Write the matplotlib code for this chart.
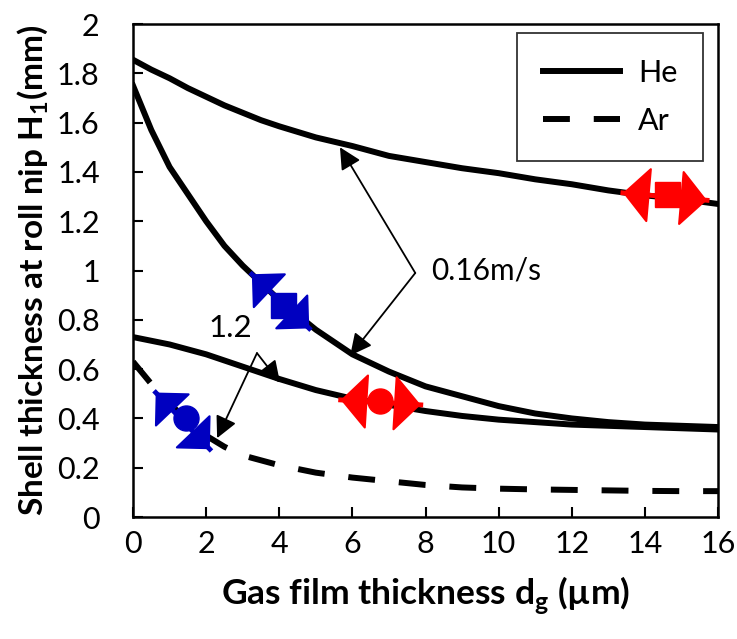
import matplotlib
matplotlib.use("Agg")
import matplotlib.pyplot as plt
from matplotlib.patches import FancyArrowPatch

plt.rcParams['font.family'] = ['Lato', 'DejaVu Sans']
plt.rcParams['mathtext.fontset'] = 'custom'
plt.rcParams['mathtext.rm'] = 'Lato'
plt.rcParams['mathtext.bf'] = 'Lato:bold'

# gas film thickness (um)
dg = [0, 0.5, 1, 1.5, 2, 2.5, 3, 3.5, 4, 5, 6, 7, 8, 9, 10, 11, 12, 13, 14, 15, 16]

# He curves
he_a = [1.855, 1.815, 1.78, 1.74, 1.705, 1.67, 1.64, 1.61, 1.585, 1.54, 1.505,
        1.465, 1.44, 1.415, 1.395, 1.37, 1.35, 1.325, 1.305, 1.29, 1.27]
he_b = [1.75, 1.57, 1.42, 1.31, 1.20, 1.10, 1.02, 0.95, 0.88, 0.76, 0.66,
        0.59, 0.53, 0.49, 0.45, 0.42, 0.40, 0.385, 0.375, 0.37, 0.365]
he_c = [0.73, 0.715, 0.70, 0.68, 0.66, 0.635, 0.61, 0.585, 0.56, 0.515, 0.48,
        0.455, 0.43, 0.41, 0.395, 0.385, 0.375, 0.37, 0.365, 0.36, 0.355]
# Ar curve
ar = [0.63, 0.54, 0.46, 0.39, 0.33, 0.285, 0.25, 0.23, 0.21, 0.18, 0.16,
      0.145, 0.13, 0.12, 0.115, 0.112, 0.11, 0.108, 0.106, 0.105, 0.105]

# coloured markers: x, y, marker, color, arrow start, arrow end
marks = [
    (4.1, 0.86, 's', '#0000c0', (3.25, 0.985), (4.82, 0.765)),
    (14.6, 1.31, 's', '#ff0000', (13.4, 1.315), (15.7, 1.285)),
    (6.75, 0.47, 'o', '#ff0000', (5.68, 0.475), (7.87, 0.455)),
    (1.45, 0.40, 'o', '#0000c0', (0.62, 0.505), (2.1, 0.275)),
]

fig = plt.figure(figsize=(7.37, 6.39), dpi=100)
ax = fig.add_axes([0.1805, 0.1909, 0.7937, 0.7715])

lw = 4.3
ax.plot(dg, he_a, color='k', lw=lw, label='He')
ax.plot(dg, he_b, color='k', lw=lw)
ax.plot(dg, he_c, color='k', lw=lw)
ax.plot(dg, ar, color='k', lw=lw, ls=(0, (4.5, 4)), label='Ar')

for x, y, m, c, p0, p1 in marks:
    ax.plot(x, y, marker=m, color=c, markersize=18, ls='none', zorder=7)
    if c == '#ff0000':
        style = '<|-|>,head_length=0.7,head_width=0.75'
    else:
        style = '<|-|>,head_length=0.65,head_width=0.65'
    arr = FancyArrowPatch(p0, p1, arrowstyle=style, mutation_scale=25,
                          color=c, lw=1.5, zorder=6, shrinkA=0, shrinkB=0)
    ax.add_patch(arr)
    ax.plot([p0[0], p1[0]], [p0[1], p1[1]], color=c, lw=3.5, zorder=6)

# annotations
ap = dict(arrowstyle='-|>,head_length=0.6,head_width=0.3', color='k', lw=1.3,
          mutation_scale=22, shrinkA=0, shrinkB=0)
ax.annotate('', xy=(5.66, 1.50), xytext=(7.72, 0.99), arrowprops=ap)
ax.annotate('', xy=(5.94, 0.655), xytext=(7.72, 0.99), arrowprops=ap)
ax.text(8.15, 1.0, '0.16m/s', fontsize=21.5, va='center', ha='left')
ax.annotate('', xy=(4.02, 0.545), xytext=(3.39, 0.665), arrowprops=ap)
ax.annotate('', xy=(2.3, 0.32), xytext=(3.39, 0.665), arrowprops=ap)
ax.text(2.05, 0.765, '1.2', fontsize=22.5, va='center', ha='left')

ax.set_xlim(0, 16)
ax.set_ylim(0, 2)
ax.set_xticks(range(0, 17, 2))
ax.set_yticks([0, 0.2, 0.4, 0.6, 0.8, 1, 1.2, 1.4, 1.6, 1.8, 2])
ax.set_yticklabels(['0', '0.2', '0.4', '0.6', '0.8', '1', '1.2', '1.4', '1.6', '1.8', '2'])
ax.tick_params(direction='in', length=7, width=1.5, labelsize=22)
ax.tick_params(axis='x', pad=9)
ax.tick_params(axis='y', pad=24)
for s in ax.spines.values():
    s.set_linewidth(1.8)

ax.set_xlabel(r'Gas film thickness d$_{\mathbf{g}}$ (µm)', fontsize=25.5,
              fontweight='bold', labelpad=12)
ax.set_ylabel(r'Shell thickness at roll nip H$_{\mathbf{1}}$(mm)', fontsize=24,
              fontweight='bold', labelpad=4)

leg = ax.legend(loc='upper right', fontsize=22, frameon=True, fancybox=False,
                edgecolor='k', handlelength=2.5, borderpad=0.85, labelspacing=0.65,
                handletextpad=0.6, borderaxespad=0,
                bbox_to_anchor=(0.975, 0.982))
leg.get_frame().set_linewidth(1.3)

fig.savefig('out.png', dpi=100)
